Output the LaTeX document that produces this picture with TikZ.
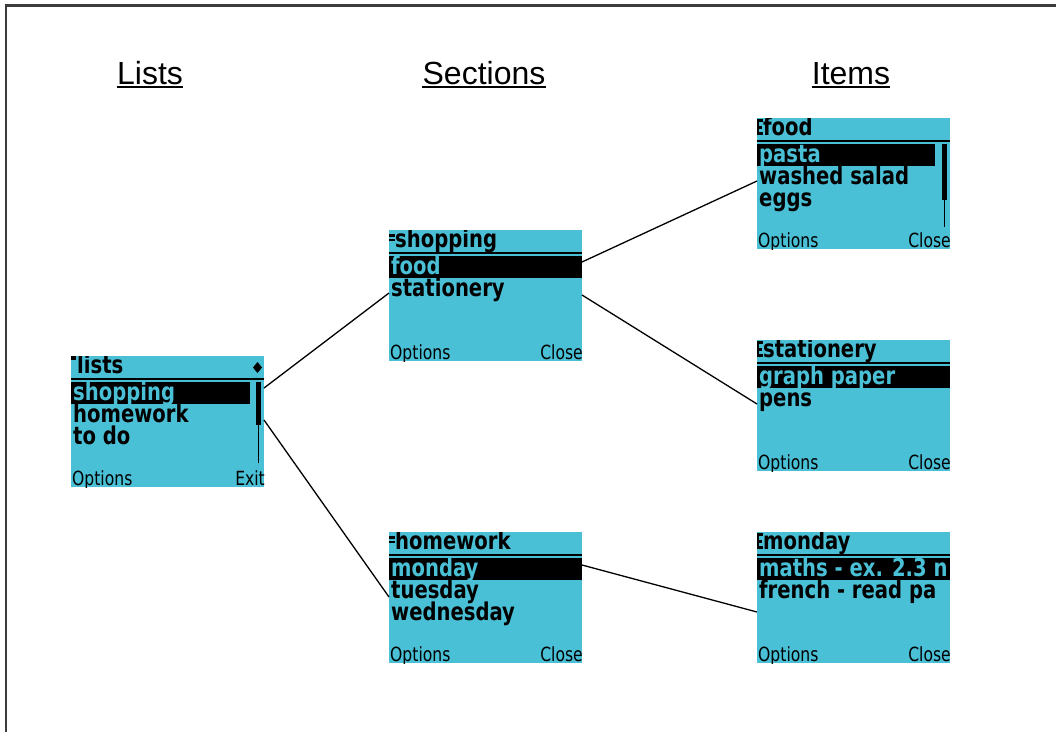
\documentclass[tikz,border=0pt]{standalone}
\usepackage{fontspec}
\setmainfont{Liberation Sans}
\newfontfamily\lcdfont[FakeStretch=0.8]{DejaVu Sans}
\definecolor{scr}{RGB}{74,192,214}
\definecolor{framegray}{RGB}{60,60,60}
\tikzset{
  screen/.style={draw=none, fill=scr, minimum width=193pt, minimum height=131pt, inner sep=0pt, outer sep=0pt, anchor=north west},
  lcd/.style={inner sep=0pt, anchor=base west, text height=15pt, text depth=5pt, font=\lcdfont\bfseries\fontsize{24.5}{24.5}\selectfont},
  sel/.style={lcd, text=scr},
  soft/.style={inner sep=0pt, font=\lcdfont\fontsize{19.5}{19.5}\selectfont},
  heading/.style={inner sep=0pt, anchor=base, font=\fontsize{32}{32}\selectfont},
  conn/.style={line width=1.3pt},
  uline/.style={line width=2.4pt},
}
% #1 name, #2 x, #3 y, #4 title, #5 right soft key, #6 content
\newcommand\lcdscreen[6]{%
  \begin{scope}[shift={(#2,#3)}]
    \node[screen] (#1) at (0,0) {};
    \begin{scope}
      \clip (0,0) rectangle (193,131);
      \node[lcd] (#1-title) at (6,17.5) {#4};
      \draw[line width=2pt] (0,23) -- (193,23);
      \node[soft, anchor=base west] (#1-opt) at (1,129) {Options};
      \node[soft, anchor=base east] (#1-key) at (194,129) {#5};
      #6
    \end{scope}
  \end{scope}}
\newcommand\barsE{\fill (0,1) rectangle (6,4); \fill (0,7.5) rectangle (5,10.5); \fill (0,14) rectangle (6,17); \fill (0,1) rectangle (2,17);}
\newcommand\barsS{\fill (0,3.5) rectangle (6,6.5); \fill (0,9) rectangle (6,11);}
\begin{document}
\begin{tikzpicture}[x=1pt,y=-1pt]
\useasboundingbox (0,0) rectangle (1056,732);
\draw[framegray, line width=2.2pt] (6,732) -- (6,5.5) -- (1056,5.5);

% headings
\node[heading] (h1) at (150,84) {Lists};
\node[heading] (h2) at (484,84) {Sections};
\node[heading] (h3) at (851,84) {Items};
\foreach \h in {h1,h2,h3}{
  \draw[uline] ([yshift=-3pt]\h.base west) -- ([yshift=-3pt]\h.base east);
}

% screens
\lcdscreen{lists}{71}{356}{lists}{Exit}{%
  \fill (0,0) rectangle (5,3.5);
  \fill (186.5,6) -- (191,11.5) -- (186.5,17) -- (182,11.5) -- cycle;
  \fill (0,26) rectangle (179,48);
  \node[sel] (lists-i1) at (2,44) {shopping};
  \node[lcd] (lists-i2) at (2,66) {homework};
  \node[lcd] (lists-i3) at (2,88) {to do};
  \fill (185,26) rectangle (189.5,69);
  \fill (186.5,26) rectangle (188,107);
}

\lcdscreen{shopping}{389}{230}{shopping}{Close}{%
  \barsS
  \fill (0,26) rectangle (193,48);
  \node[sel] (shopping-i1) at (2,44) {food};
  \node[lcd] (shopping-i2) at (2,66) {stationery};
}

\lcdscreen{homework}{389}{532}{homework}{Close}{%
  \barsS
  \fill (0,26) rectangle (193,48);
  \node[sel] (homework-i1) at (2,44) {monday};
  \node[lcd] (homework-i2) at (2,66) {tuesday};
  \node[lcd] (homework-i3) at (2,88) {wednesday};
}

\lcdscreen{food}{757}{118}{food}{Close}{%
  \barsE
  \fill (0,26) rectangle (178,48);
  \node[sel] (food-i1) at (2,44) {pasta};
  \node[lcd] (food-i2) at (2,66) {washed salad};
  \node[lcd] (food-i3) at (2,88) {eggs};
  \fill (185,26) rectangle (190,82);
  \fill (186.7,26) rectangle (188.3,109);
}

\lcdscreen{stationery}{757}{340}{stationery}{Close}{%
  \barsE
  \fill (0,26) rectangle (193,48);
  \node[sel] (stationery-i1) at (2,44) {graph paper};
  \node[lcd] (stationery-i2) at (2,66) {pens};
}

\lcdscreen{monday}{757}{532}{monday}{Close}{%
  \barsE
  \fill (0,26) rectangle (193,48);
  \node[sel] (monday-i1) at (2,44) {maths - ex. 2.3 n};
  \node[lcd] (monday-i2) at (2,66) {french - read pa};
}

% connectors
\draw[conn] ([yshift=-32pt]lists.north east) -- ([yshift=-63pt]shopping.north west);
\draw[conn] ([yshift=-64pt]lists.north east) -- ([yshift=-65pt]homework.north west);
\draw[conn] ([yshift=-32pt]shopping.north east) -- ([yshift=-63pt]food.north west);
\draw[conn] ([yshift=-65pt]shopping.north east) -- ([yshift=-64pt]stationery.north west);
\draw[conn] ([yshift=-33pt]homework.north east) -- ([yshift=-80pt]monday.north west);
\end{tikzpicture}
\end{document}
